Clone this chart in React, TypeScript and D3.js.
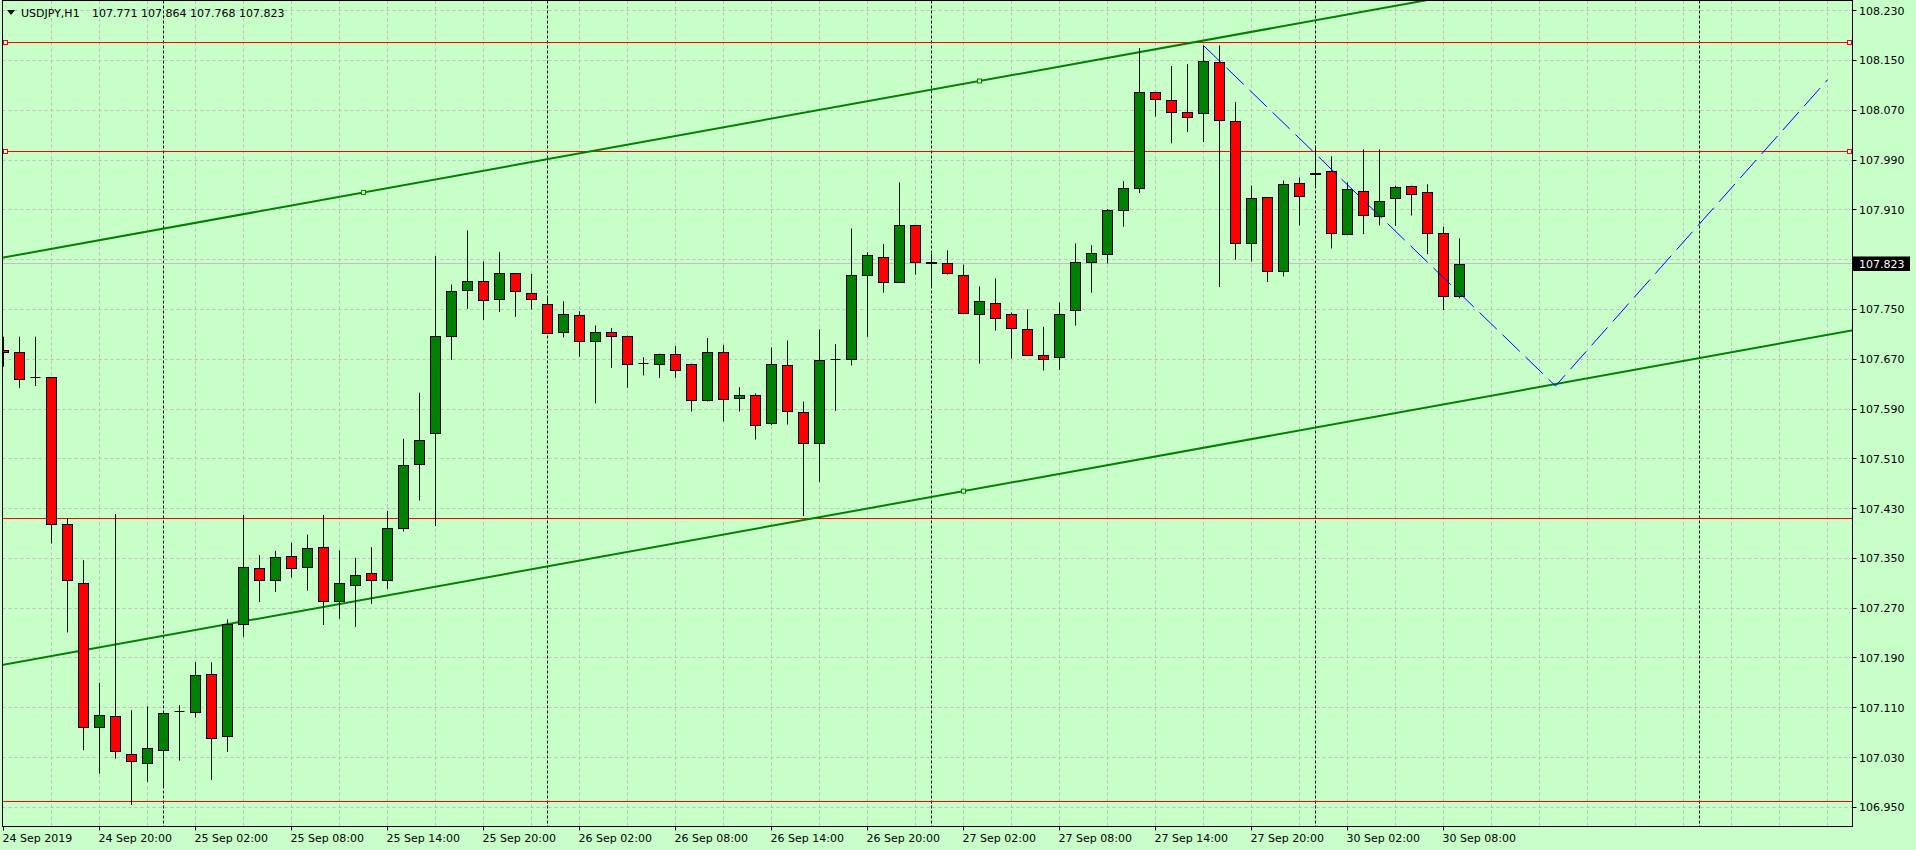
import React from 'react';
import * as d3 from 'd3';

const W = 1916;
const H = 850;
const BG = '#C8FFC8';

const symbolTitle = 'USDJPY,H1';
const titleValues = '107.771 107.864 107.768 107.823';

// H1 bars, 24 Sep 2019 14:00 .. 30 Sep 2019 09:00
const opens = [
  107.684, 107.681, 107.641, 107.641, 107.406, 107.310, 107.079, 107.096, 107.035, 107.021,
  107.042, 107.104, 107.103, 107.164, 107.064, 107.244, 107.334, 107.315, 107.353, 107.336,
  107.368, 107.281, 107.308, 107.326, 107.315, 107.398, 107.501, 107.551, 107.708, 107.781,
  107.795, 107.766, 107.808, 107.777, 107.758, 107.713, 107.741, 107.699, 107.713, 107.708,
  107.663, 107.662, 107.679, 107.662, 107.604, 107.681, 107.607, 107.612, 107.567, 107.660,
  107.585, 107.535, 107.669, 107.671, 107.806, 107.834, 107.794, 107.885, 107.827, 107.824,
  107.806, 107.742, 107.761, 107.742, 107.718, 107.676, 107.673, 107.749, 107.826, 107.839,
  107.909, 107.945, 108.100, 108.086, 108.068, 108.065, 108.147, 108.052, 107.856, 107.930,
  107.811, 107.953, 107.967, 107.973, 107.871, 107.941, 107.900, 107.929, 107.948, 107.938,
  107.872, 107.771,
];
const highs = [
  107.706, 107.706, 107.706, 107.641, 107.414, 107.347, 107.150, 107.421, 107.106, 107.112,
  107.101, 107.114, 107.183, 107.183, 107.252, 107.420, 107.355, 107.362, 107.375, 107.388,
  107.420, 107.363, 107.351, 107.368, 107.426, 107.542, 107.616, 107.836, 107.790, 107.877,
  107.827, 107.842, 107.808, 107.807, 107.771, 107.763, 107.747, 107.724, 107.720, 107.708,
  107.673, 107.679, 107.691, 107.663, 107.704, 107.693, 107.625, 107.615, 107.689, 107.700,
  107.602, 107.718, 107.694, 107.880, 107.842, 107.855, 107.954, 107.885, 107.839, 107.845,
  107.822, 107.787, 107.800, 107.745, 107.750, 107.722, 107.761, 107.856, 107.853, 107.911,
  107.956, 108.170, 108.100, 108.141, 108.144, 108.174, 108.174, 108.083, 107.949, 107.930,
  107.957, 107.962, 108.012, 107.996, 107.954, 108.007, 108.007, 107.949, 107.949, 107.951,
  107.883, 107.864,
];
const lows = [
  107.658, 107.624, 107.627, 107.374, 107.231, 107.042, 107.004, 107.028, 106.954, 106.991,
  106.983, 107.025, 107.094, 106.994, 107.039, 107.224, 107.280, 107.296, 107.319, 107.298,
  107.243, 107.253, 107.240, 107.277, 107.301, 107.393, 107.443, 107.402, 107.669, 107.751,
  107.733, 107.746, 107.738, 107.750, 107.712, 107.705, 107.674, 107.599, 107.656, 107.624,
  107.644, 107.640, 107.640, 107.586, 107.602, 107.570, 107.586, 107.541, 107.564, 107.565,
  107.418, 107.473, 107.587, 107.660, 107.706, 107.777, 107.794, 107.806, 107.786, 107.806,
  107.745, 107.663, 107.716, 107.671, 107.675, 107.652, 107.653, 107.724, 107.777, 107.824,
  107.883, 107.937, 108.060, 108.017, 108.035, 108.019, 107.786, 107.830, 107.827, 107.794,
  107.803, 107.885, 107.949, 107.848, 107.871, 107.871, 107.885, 107.884, 107.901, 107.839,
  107.749, 107.768,
];
const closes = [
  107.681, 107.639, 107.641, 107.406, 107.315, 107.079, 107.098, 107.040, 107.024, 107.045,
  107.101, 107.104, 107.162, 107.061, 107.244, 107.336, 107.315, 107.352, 107.334, 107.366,
  107.281, 107.310, 107.324, 107.315, 107.398, 107.500, 107.540, 107.708, 107.779, 107.795,
  107.765, 107.808, 107.779, 107.766, 107.712, 107.742, 107.700, 107.713, 107.708, 107.663,
  107.663, 107.679, 107.652, 107.604, 107.681, 107.606, 107.612, 107.565, 107.662, 107.586,
  107.535, 107.668, 107.669, 107.805, 107.837, 107.794, 107.885, 107.827, 107.824, 107.808,
  107.745, 107.763, 107.737, 107.720, 107.676, 107.671, 107.742, 107.827, 107.840, 107.909,
  107.945, 108.100, 108.088, 108.067, 108.059, 108.149, 108.054, 107.856, 107.929, 107.811,
  107.951, 107.933, 107.970, 107.872, 107.943, 107.901, 107.925, 107.946, 107.935, 107.872,
  107.771, 107.823,
];

const priceTicks = [
  108.230, 108.150, 108.070, 107.990, 107.910, 107.830, 107.750, 107.670, 107.590,
  107.510, 107.430, 107.350, 107.270, 107.190, 107.110, 107.030, 106.950,
];
const timeLabels = [
  '24 Sep 2019', '24 Sep 20:00', '25 Sep 02:00', '25 Sep 08:00', '25 Sep 14:00', '25 Sep 20:00',
  '26 Sep 02:00', '26 Sep 08:00', '26 Sep 14:00', '26 Sep 20:00', '27 Sep 02:00', '27 Sep 08:00',
  '27 Sep 14:00', '27 Sep 20:00', '30 Sep 02:00', '30 Sep 08:00',
];
const timeLabelBars = [0, 6, 12, 18, 24, 30, 36, 42, 48, 54, 60, 66, 72, 78, 84, 90];
const daySeparatorBars = [10, 34, 58, 82, 106];

const levelLines = [108.179, 108.004, 107.414, 106.960];
const selectedLevels = [108.179, 108.004];
const channelUpper: [number, number][] = [[22.5, 107.938], [61, 108.117]];
const channelLowerAnchor: [number, number] = [60, 107.458];
const zigzag: [number, number][] = [[75, 108.174], [97, 107.627], [114, 108.119]];
const bidPrice = 107.823;

const plotLeft = 2.5;
const plotRight = 1852.5;
const plotTop = 0.5;
const plotBottom = 826.5;

const crisp = (v: number) => Math.floor(v) + 0.5;

export default function App() {
  const x = d3.scaleLinear().domain([0, 1]).range([3.5, 19.5]);
  const y = d3.scaleLinear().domain([106.95, 108.23]).range([807.3, 10.7]);

  const font = { fontFamily: '"DejaVu Sans", Verdana, sans-serif', fontSize: 11 };

  const gridBars: number[] = [];
  for (let b = 3; x(b) < plotRight; b += 3) gridBars.push(b);

  const slope = (channelUpper[1][1] - channelUpper[0][1]) / (channelUpper[1][0] - channelUpper[0][0]);
  const chanAt = (anchor: [number, number], b: number) => anchor[1] + slope * (b - anchor[0]);
  const b0 = -2;
  const b1 = 120;

  const zz = d3.line<[number, number]>().x((d) => x(d[0])).y((d) => y(d[1]));

  const markers: [number, number][] = [channelUpper[0], channelUpper[1], channelLowerAnchor];

  return (
    <div style={{ position: 'fixed', left: 0, top: 0, width: W, height: H, background: BG }}>
      <svg width={W} height={H} style={{ display: 'block', background: BG }}>
        <defs>
          <clipPath id="plot">
            <rect x={plotLeft} y={plotTop} width={plotRight - plotLeft} height={plotBottom - plotTop} />
          </clipPath>
        </defs>
        <rect x={0} y={0} width={W} height={H} fill={BG} />

        <g clipPath="url(#plot)">
          {priceTicks.map((p) => (
            <line key={'gh' + p} x1={plotLeft} x2={plotRight} y1={crisp(y(p))} y2={crisp(y(p))}
              stroke="#BEBEBE" strokeWidth={1} strokeDasharray="3 3" />
          ))}
          {gridBars.map((b) => (
            <line key={'gv' + b} x1={x(b)} x2={x(b)} y1={plotTop} y2={plotBottom}
              stroke="#BEBEBE" strokeWidth={1} strokeDasharray="3 3" />
          ))}
          {daySeparatorBars.map((b) => (
            <line key={'ds' + b} x1={x(b)} x2={x(b)} y1={plotTop} y2={plotBottom}
              stroke="#000" strokeWidth={1} strokeDasharray="3 2" />
          ))}
          <line x1={plotLeft} x2={plotRight} y1={crisp(y(bidPrice))} y2={crisp(y(bidPrice))} stroke="#C0C0C0" strokeWidth={1} />

          {levelLines.map((p) => (
            <line key={'lv' + p} x1={plotLeft} x2={plotRight} y1={crisp(y(p))} y2={crisp(y(p))} stroke="#FF0000" strokeWidth={1} />
          ))}

          <line x1={x(b0)} y1={y(chanAt(channelUpper[0], b0))} x2={x(b1)} y2={y(chanAt(channelUpper[0], b1))}
            stroke="#008000" strokeWidth={2} />
          <line x1={x(b0)} y1={y(chanAt(channelLowerAnchor, b0))} x2={x(b1)} y2={y(chanAt(channelLowerAnchor, b1))}
            stroke="#008000" strokeWidth={2} />

          {opens.map((o, i) => {
            const c = closes[i];
            const cx = x(i);
            const top = y(Math.max(o, c));
            const bot = y(Math.min(o, c));
            const doji = o === c;
            const fill = c > o ? '#008000' : '#FF0000';
            return (
              <g key={'c' + i}>
                <line x1={cx} x2={cx} y1={y(highs[i])} y2={y(lows[i])} stroke="#000" strokeWidth={1} />
                {doji ? (
                  <line x1={cx - 5} x2={cx + 5} y1={crisp(top)} y2={crisp(top)} stroke="#000" strokeWidth={1} />
                ) : (
                  <rect x={cx - 5} y={Math.round(top) + 0.5} width={10} height={Math.max(Math.round(bot) - Math.round(top), 1)}
                    fill={fill} stroke="#000" strokeWidth={1} />
                )}
              </g>
            );
          })}

          <path d={zz(zigzag) || ''} fill="none" stroke="#0000FF" strokeWidth={1} strokeDasharray="24 8" />

          {markers.map((a, k) => (
            <rect key={'cm' + k} x={x(a[0]) - 2} y={y(a[1]) - 2} width={4} height={4} fill={BG} stroke="#008000" strokeWidth={1} />
          ))}
          {selectedLevels.map((p) => (
            <g key={'lm' + p}>
              <rect x={3.5} y={crisp(y(p)) - 2} width={4} height={4} fill="#fff" stroke="#FF0000" strokeWidth={1} />
              <rect x={1847.5} y={crisp(y(p)) - 2} width={4} height={4} fill="#fff" stroke="#FF0000" strokeWidth={1} />
            </g>
          ))}
        </g>

        <rect x={plotLeft} y={plotTop} width={plotRight - plotLeft} height={plotBottom - plotTop} fill="none" stroke="#000" strokeWidth={1} />

        {priceTicks.map((p) => (
          <g key={'pt' + p}>
            <line x1={plotRight} x2={plotRight + 4} y1={crisp(y(p))} y2={crisp(y(p))} stroke="#000" />
            {Math.abs(y(p) - y(bidPrice)) > 12 && (
              <text x={1859} y={y(p) + 4} {...font} fill="#000">{p.toFixed(3)}</text>
            )}
          </g>
        ))}
        <rect x={1853} y={y(bidPrice) - 7.5} width={57} height={14.5} fill="#000" />
        <text x={1859} y={y(bidPrice) + 4} {...font} fill="#fff">{bidPrice.toFixed(3)}</text>

        {timeLabelBars.map((b, i) => (
          <g key={'tl' + b}>
            <line x1={x(b)} x2={x(b)} y1={plotBottom} y2={plotBottom + 4} stroke="#000" />
            <text x={x(b) - 1} y={842} {...font} fill="#000">{timeLabels[i]}</text>
          </g>
        ))}

        <polygon points="7,10 15,10 11,15" fill="#000" />
        <text x={21} y={17} {...font} fill="#000">{symbolTitle}</text>
        <text x={92} y={17} {...font} fill="#000">{titleValues}</text>
      </svg>
    </div>
  );
}
